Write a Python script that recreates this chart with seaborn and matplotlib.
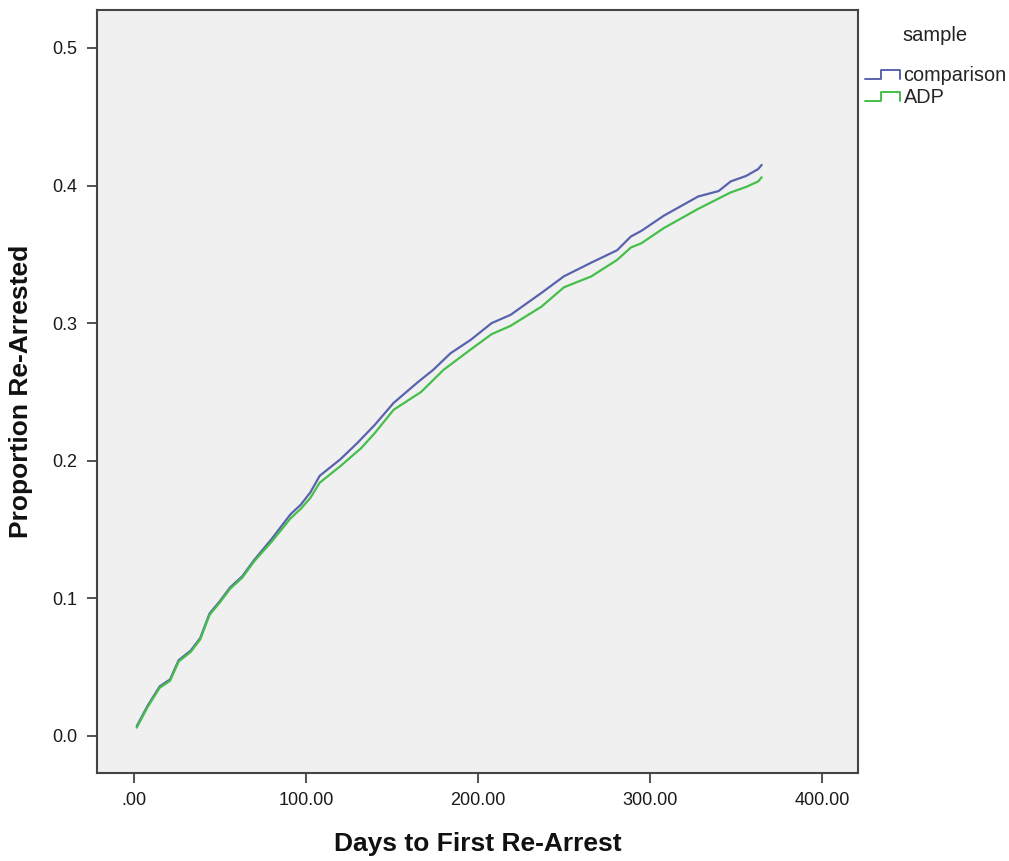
import pandas as pd
import seaborn as sns
import matplotlib.pyplot as plt
from matplotlib.lines import Line2D
from matplotlib.legend_handler import HandlerBase

# values
comparison_days = [1.6, 8, 15, 21, 26, 33, 38.5, 44, 50, 56, 63, 70, 80, 91, 97, 102.6,
                   108, 120, 130, 140, 151, 165, 174, 184, 196, 208, 219, 237, 250,
                   266, 281, 289, 295, 308, 328, 340, 347, 356, 363, 365]
comparison_prop = [0.007, 0.022, 0.036, 0.041, 0.055, 0.062, 0.071, 0.089, 0.098, 0.108,
                   0.116, 0.128, 0.143, 0.161, 0.168, 0.177, 0.189, 0.201, 0.213, 0.226,
                   0.242, 0.257, 0.266, 0.278, 0.288, 0.300, 0.306, 0.322, 0.334, 0.344,
                   0.353, 0.363, 0.367, 0.378, 0.392, 0.396, 0.403, 0.407, 0.412, 0.415]

adp_days = [1.6, 8, 15, 21, 26, 33, 38.5, 44, 50, 56, 63, 70, 80, 91, 97, 102.6,
            108, 120, 132, 140, 151, 167, 180, 196, 208, 219, 237, 250, 266, 281,
            289, 295, 308, 328, 347, 356, 363, 365]
adp_prop = [0.006, 0.021, 0.035, 0.040, 0.054, 0.061, 0.070, 0.088, 0.097, 0.107,
            0.115, 0.127, 0.141, 0.158, 0.165, 0.173, 0.184, 0.196, 0.209, 0.220,
            0.237, 0.250, 0.266, 0.281, 0.292, 0.298, 0.312, 0.326, 0.334, 0.346,
            0.355, 0.358, 0.369, 0.383, 0.395, 0.399, 0.403, 0.406]

samples = ["comparison", "ADP"]
x_ticks = [0, 100, 200, 300, 400]
x_tick_labels = [".00", "100.00", "200.00", "300.00", "400.00"]
y_ticks = [0.0, 0.1, 0.2, 0.3, 0.4, 0.5]
y_tick_labels = ["0.0", "0.1", "0.2", "0.3", "0.4", "0.5"]

df = pd.concat([
    pd.DataFrame({"day": comparison_days, "prop": comparison_prop, "sample": samples[0]}),
    pd.DataFrame({"day": adp_days, "prop": adp_prop, "sample": samples[1]}),
])

colors = {"comparison": "#5a62ad", "ADP": "#45bf4a"}

sns.set_style("white")
plt.rcParams["font.family"] = ["Liberation Sans", "DejaVu Sans"]

fig = plt.figure(figsize=(10.09, 8.61), dpi=100)
ax = fig.add_axes([0.0961, 0.1022, 0.7542, 0.8862])
ax.set_facecolor("#f0f0f0")

sns.lineplot(data=df, x="day", y="prop", hue="sample", palette=colors,
             hue_order=samples, sort=False, estimator=None, linewidth=1.6,
             ax=ax, legend=False)

ax.set_xlim(-21.5, 421)
ax.set_ylim(-0.027, 0.5276)
ax.set_xticks(x_ticks)
ax.set_xticklabels(x_tick_labels, fontsize=13)
ax.set_yticks(y_ticks)
ax.set_yticklabels(y_tick_labels, fontsize=13)
ax.tick_params(axis="both", direction="out", length=7, width=1.2, color="#333333",
               labelcolor="#1a1a1a", pad=7, bottom=True, left=True)
for s in ax.spines.values():
    s.set_color("#444444")
    s.set_linewidth(1.5)

ax.set_xlabel("Days to First Re-Arrest", fontsize=19, fontweight="bold", labelpad=16,
              color="#111111")
ax.set_ylabel("Proportion Re-Arrested", fontsize=19, fontweight="bold", labelpad=14,
              color="#111111")


class StepHandler(HandlerBase):
    def create_artists(self, legend, orig_handle, xdescent, ydescent, width, height,
                       fontsize, trans):
        w, h = width, height
        xs = [-xdescent, 0.45 * w, 0.45 * w, w, w]
        ys = [0.15 * h, 0.15 * h, 0.85 * h, 0.85 * h, 0.15 * h]
        line = Line2D(xs, ys, color=orig_handle.get_color(), linewidth=1.4)
        line.set_transform(trans)
        return [line]


fig.text(0.927, 0.959, "sample", fontsize=14.5, ha="center", va="center",
         color="#222222")
handles = [Line2D([], [], color=colors[s]) for s in samples]
leg = fig.legend(handles, samples, loc="upper left",
                 bbox_to_anchor=(0.8434, 0.939), frameon=False, fontsize=14.3,
                 handler_map={Line2D: StepHandler()}, borderpad=0.2,
                 handlelength=1.75, handletextpad=0.2, labelspacing=0.15)

fig.savefig("out.png", dpi=100)
plt.close()
